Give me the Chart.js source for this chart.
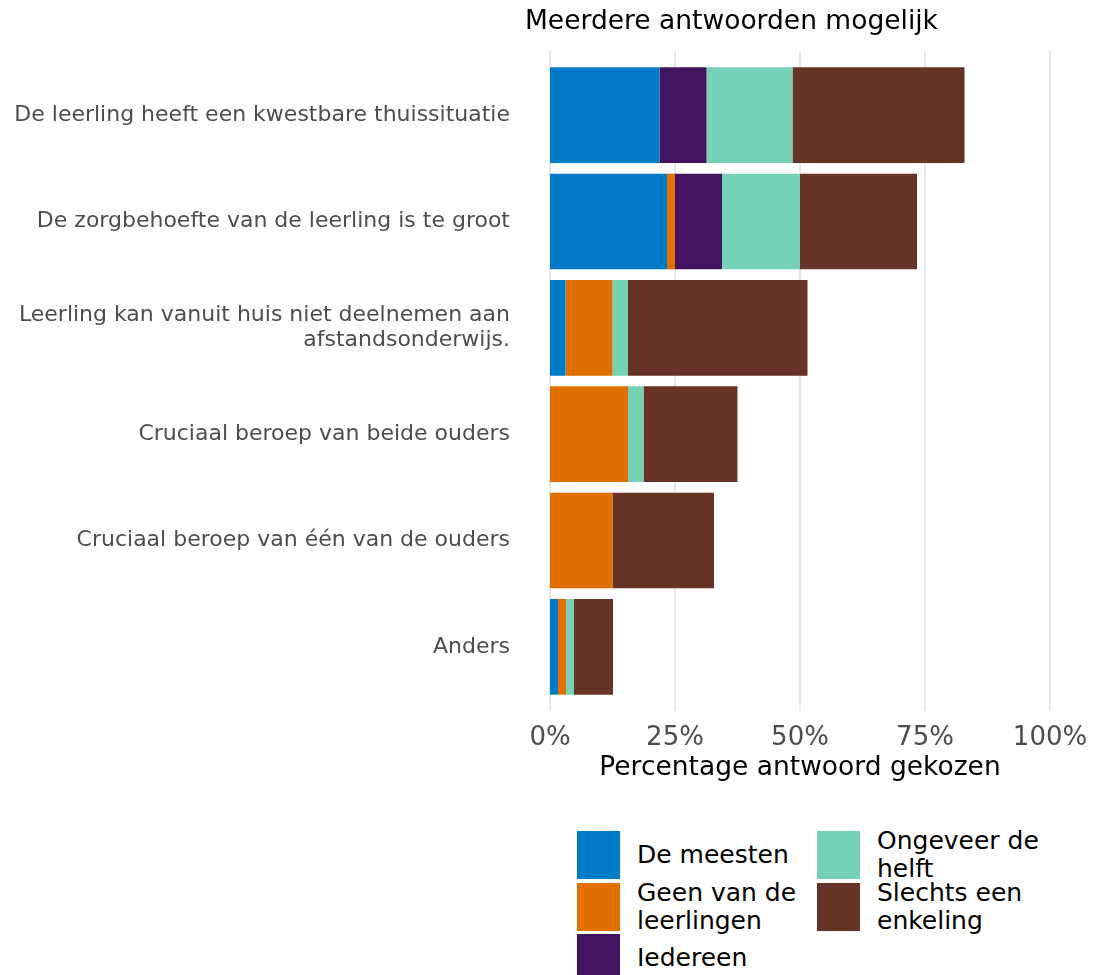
<!DOCTYPE html>
<html lang="nl">
<head>
  <meta charset="UTF-8" />
  <title>Meerdere antwoorden mogelijk</title>
  <script src="https://cdn.jsdelivr.net/npm/chart.js"></script>
  <style>
    body { margin: 0; background: #fff; font-family: 'DejaVu Sans', sans-serif; }
    #wrap { position: relative; width: 1098px; height: 800px; }
    #legend {
      position: absolute; left: 577px; top: 831px;
      display: grid; grid-auto-flow: column;
      grid-template-rows: repeat(3, 48px); row-gap: 3.5px;
      grid-template-columns: 240px 240px;
    }
    .item { display: flex; align-items: center; height: 48px; }
    .sw { width: 43px; height: 48px; flex: none; margin-right: 17px; }
    .lab { width: 178px; font-size: 25px; line-height: 28px; color: #000; }
  </style>
</head>
<body>
  <div id="wrap"><canvas id="chart"></canvas></div>
  <div id="legend"></div>

  <script>
    const categories = [
      'De leerling heeft een kwestbare thuissituatie',
      'De zorgbehoefte van de leerling is te groot',
      ['Leerling kan vanuit huis niet deelnemen aan', 'afstandsonderwijs.'],
      'Cruciaal beroep van beide ouders',
      'Cruciaal beroep van één van de ouders',
      'Anders'
    ];
    const seriesNames = ['De meesten', 'Geen van de leerlingen', 'Iedereen', 'Ongeveer de helft', 'Slechts een enkeling'];
    const seriesColors = ['#007BC7', '#E17000', '#42145F', '#76D2B6', '#673327'];

    // percentages per category
    const deMeesten   = [21.9, 23.4, 3.1, 0, 0, 1.6];
    const geenVanDe   = [0, 1.6, 9.4, 15.6, 12.5, 1.6];
    const iedereen    = [9.4, 9.4, 0, 0, 0, 0];
    const ongeveer    = [17.2, 15.6, 3.1, 3.1, 0, 1.6];
    const slechtsEen  = [34.4, 23.4, 35.9, 18.8, 20.3, 7.8];
    const seriesValues = [deMeesten, geenVanDe, iedereen, ongeveer, slechtsEen];

    const xTicks = [0, 25, 50, 75, 100];

    const datasets = seriesNames.map((name, i) => ({
      label: name,
      data: seriesValues[i],
      backgroundColor: seriesColors[i],
      borderWidth: 0,
      barPercentage: 0.9,
      categoryPercentage: 1.0
    }));

    // grid lines drawn a bit beyond the plot area, like the original
    const gridPlugin = {
      id: 'grid',
      beforeDatasetsDraw(chart) {
        const { ctx, chartArea, scales } = chart;
        ctx.save();
        ctx.strokeStyle = '#e8e8e8';
        ctx.lineWidth = 2;
        xTicks.forEach(v => {
          const x = Math.round(scales.x.getPixelForValue(v));
          ctx.beginPath();
          ctx.moveTo(x, chartArea.top - 11);
          ctx.lineTo(x, chartArea.bottom + 11);
          ctx.stroke();
        });
        ctx.restore();
      }
    };

    const titlePlugin = {
      id: 'topTitle',
      afterDraw(chart) {
        const ctx = chart.ctx;
        ctx.save();
        ctx.font = '26.5px "DejaVu Sans"';
        ctx.fillStyle = '#000';
        ctx.textBaseline = 'middle';
        ctx.textAlign = 'left';
        ctx.fillText('Meerdere antwoorden mogelijk', 525, 22);
        ctx.restore();
      }
    };

    new Chart(document.getElementById('chart'), {
      type: 'bar',
      data: { labels: categories, datasets },
      options: {
        indexAxis: 'y',
        responsive: true,
        maintainAspectRatio: false,
        animation: false,
        layout: { padding: { top: 62, bottom: 16, right: 48, left: 0 } },
        plugins: {
          legend: { display: false },
          tooltip: { enabled: false }
        },
        scales: {
          x: {
            stacked: true,
            min: 0,
            max: 100,
            grid: { display: false },
            border: { display: false },
            afterFit(scale) {
              scale.height = 84;
              scale.paddingLeft = 0;
              scale.paddingRight = 0;
            },
            afterBuildTicks(scale) { scale.ticks = xTicks.map(v => ({ value: v })); },
            ticks: {
              padding: 15,
              color: '#4d4d4d',
              font: { family: 'DejaVu Sans', size: 26 },
              callback: v => v + '%'
            },
            title: {
              display: true,
              text: 'Percentage antwoord gekozen',
              color: '#000',
              font: { family: 'DejaVu Sans', size: 26.5 },
              padding: { top: 0, bottom: 0 }
            }
          },
          y: {
            stacked: true,
            grid: { display: false, drawTicks: false },
            border: { display: false },
            afterFit(scale) { scale.width = 550; },
            ticks: {
              padding: 40,
              color: '#4d4d4d',
              font: { family: 'DejaVu Sans', size: 22, lineHeight: 1.15 }
            }
          }
        }
      },
      plugins: [gridPlugin, titlePlugin]
    });

    // legend, two columns with wrapped labels
    const legend = document.getElementById('legend');
    seriesNames.forEach((name, i) => {
      const item = document.createElement('div');
      item.className = 'item';
      item.innerHTML = '<div class="sw" style="background:' + seriesColors[i] + '"></div><div class="lab">' + name + '</div>';
      legend.appendChild(item);
    });
  </script>
</body>
</html>
